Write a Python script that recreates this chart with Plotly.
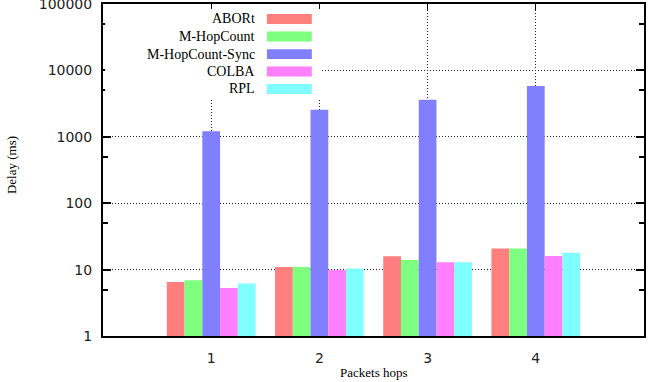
import plotly.graph_objects as go

hops = [1, 2, 3, 4]
series_names = ["ABORt", "M-HopCount", "M-HopCount-Sync", "COLBA", "RPL"]
abort = [6.5, 10.9, 15.9, 20.7]
mhop = [6.9, 10.9, 14.0, 20.7]
mhop_sync = [1210, 2560, 3620, 5800]
colba = [5.3, 9.9, 12.9, 16.0]
rpl = [6.2, 10.4, 12.9, 18.0]
y_tick_vals = [1, 10, 100, 1000, 10000, 100000]
y_tick_text = ["1", "10", "100", "1000", "10000", "100000"]
y_minor_vals = [5, 50, 500, 5000, 50000]

colors = ["#ff7f7f", "#7fff7f", "#7f7fff", "#ff7fff", "#7fffff"]
values = [abort, mhop, mhop_sync, colba, rpl]

fig = go.Figure()
for name, vals, c in zip(series_names, values, colors):
    fig.add_trace(go.Bar(x=hops, y=vals, name=name, marker=dict(color=c, line=dict(width=0)),
                         showlegend=False))

tickfont = dict(family="DejaVu Sans", size=14, color="#222")
fig.update_layout(
    width=654, height=382,
    margin=dict(l=103, r=10, t=4, b=46),
    paper_bgcolor="white", plot_bgcolor="white",
    barmode="group", bargap=0.18, bargroupgap=0,
    font=dict(family="Liberation Serif", size=13, color="black"),
)
fig.update_xaxes(
    range=[0, 5], tickvals=hops, ticktext=[str(h) for h in hops], tickfont=tickfont,
    showline=True, linecolor="black", linewidth=2, mirror="ticks",
    ticks="inside", ticklen=6, tickcolor="black", tickwidth=1,
    showgrid=True, gridcolor="#222", griddash="1px,2px", gridwidth=1,
    zeroline=False, layer="below traces", ticklabelstandoff=8, automargin=False,
)
fig.update_yaxes(
    type="log", range=[-0.0001, 5.0001], tickvals=y_tick_vals, ticktext=y_tick_text, tickfont=tickfont,
    showline=True, linecolor="black", linewidth=2, mirror="ticks",
    ticks="inside", ticklen=8, tickcolor="black", tickwidth=1.5,
    minor=dict(tickvals=y_minor_vals, ticks="inside", ticklen=5, tickcolor="black", tickwidth=1.5,
               showgrid=False),
    showgrid=True, gridcolor="#222", griddash="1px,2px", gridwidth=1,
    zeroline=False, layer="below traces", ticklabelstandoff=6, automargin=False,
    ticklabeloverflow="allow",
)

# axis titles
fig.add_annotation(xref="paper", yref="paper", x=0.5, y=-0.082, yanchor="top", showarrow=False,
                   text="Packets hops", font=dict(family="Liberation Serif", size=13, color="black"))
fig.add_annotation(xref="paper", yref="paper", x=-0.17, y=0.515, xanchor="center", showarrow=False,
                   textangle=-90, text="Delay (ms)",
                   font=dict(family="Liberation Serif", size=13, color="black"))

# manual legend (text right-aligned, swatch on the right, as in the original)
fig.add_shape(type="rect", xref="paper", yref="paper", x0=0.004, x1=0.403, y0=0.717, y1=0.985,
              fillcolor="white", line=dict(width=0), layer="above")
row_y = [0.955, 0.902, 0.849, 0.797, 0.744]
for name, c, yy in zip(series_names, colors, row_y):
    fig.add_shape(type="rect", xref="paper", yref="paper", x0=0.303, x1=0.386,
                  y0=yy - 0.015, y1=yy + 0.015, fillcolor=c, line=dict(width=0), layer="above")
    fig.add_annotation(xref="paper", yref="paper", x=0.285, y=yy, text=name, showarrow=False,
                       xanchor="right", yanchor="middle",
                       font=dict(family="Liberation Serif", size=14, color="black"))

fig.write_html("out.html")
